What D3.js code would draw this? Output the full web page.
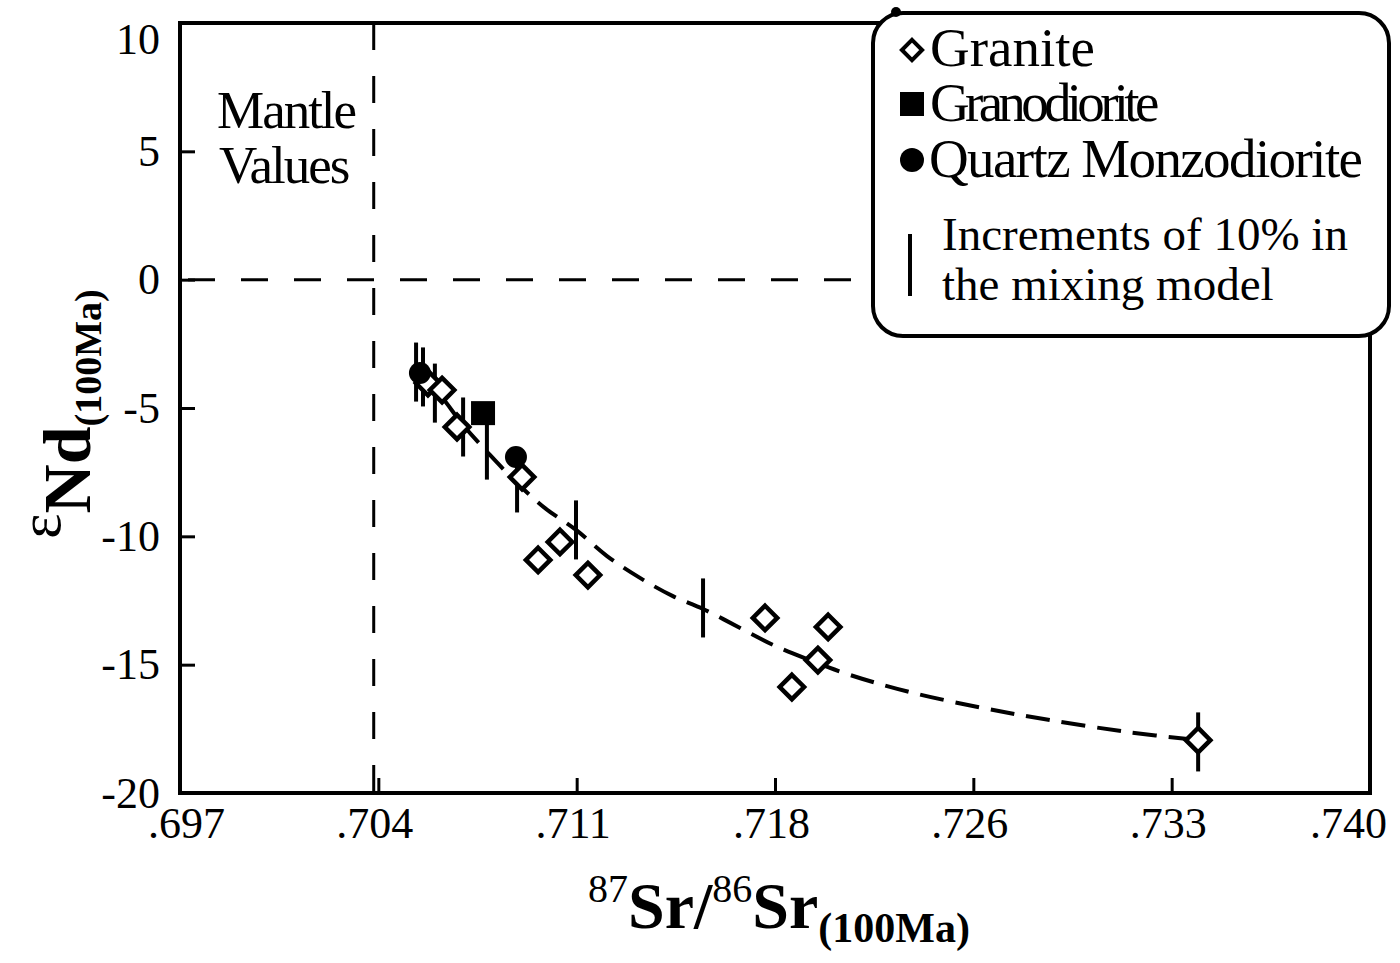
<!DOCTYPE html>
<html>
<head>
<meta charset="utf-8">
<script src="https://cdn.jsdelivr.net/npm/d3@7"></script>
<style>
  html, body { margin: 0; padding: 0; background: #fff; }
  svg { display: block; font-family: "Liberation Serif", "Times New Roman", serif; }
</style>
</head>
<body>
<svg id="chart" width="1400" height="963"></svg>
<script>
// 87Sr/86Sr (100 Ma) vs epsilon-Nd (100 Ma) for the plutonic suite
const granite = [
  [0.70596, -4.03], [0.70647, -4.30], [0.70701, -5.74], [0.70936, -7.69],
  [0.71073, -10.22], [0.70994, -10.92], [0.71174, -11.51], [0.71814, -13.18],
  [0.72042, -13.53], [0.72005, -14.82], [0.71911, -15.87], [0.73379, -17.94]
];
const granodiorite = [[0.70795, -5.20]];
const quartzMonzodiorite = [[0.70567, -3.64], [0.70914, -6.91]];

// Mixing model trajectory and its 10% increment marks
const mixingCurve = [
  [0.70553, -3.52], [0.70640, -4.50], [0.70723, -5.66], [0.70820, -6.83],
  [0.70918, -7.92], [0.71019, -8.90], [0.71131, -9.75], [0.71243, -10.77],
  [0.71362, -11.62], [0.71481, -12.33], [0.71590, -12.83], [0.71724, -13.57],
  [0.71843, -14.23], [0.71966, -14.78], [0.72121, -15.40], [0.72338, -16.07],
  [0.72602, -16.69], [0.72844, -17.16], [0.73122, -17.62], [0.73379, -17.94]
];
const mixingIncrements = [
  [0.70553, -3.60], [0.70578, -3.79], [0.70621, -4.42], [0.70723, -5.74],
  [0.70809, -6.64], [0.70918, -7.92], [0.71131, -9.75], [0.71590, -12.79],
  [0.73379, -18.01]
];

const xTickLabels = [".697", ".704", ".711", ".718", ".726", ".733", ".740"];
const yTickValues = [-20, -15, -10, -5, 0, 5, 10];
const mantleSr = 0.704;
const mantleNd = 0;

const svg = d3.select("#chart");
const plotLeft = 180, plotRight = 1370, plotTop = 23, plotBottom = 793;

const x = d3.scaleLinear().domain([0.697, 0.740]).range([plotLeft, plotRight]);
const y = d3.scaleLinear().domain([-20, 10]).range([plotBottom, plotTop]);
const xTickValues = xTickLabels.map((d, i) => 0.697 + i * (0.740 - 0.697) / (xTickLabels.length - 1));

// Reference lines for mantle values
svg.append("line")
  .attr("x1", x(mantleSr)).attr("x2", x(mantleSr))
  .attr("y1", plotTop).attr("y2", plotBottom)
  .attr("stroke", "#000").attr("stroke-width", 3)
  .attr("stroke-dasharray", "27,26");
svg.append("line")
  .attr("x1", plotLeft).attr("x2", plotRight)
  .attr("y1", y(mantleNd)).attr("y2", y(mantleNd))
  .attr("stroke", "#000").attr("stroke-width", 3)
  .attr("stroke-dasharray", "27,26").attr("stroke-dashoffset", -8);

// Axes
const xAxis = d3.axisBottom(x).tickValues(xTickValues)
  .tickFormat((d, i) => xTickLabels[i]).tickSize(-15).tickPadding(14);
const yAxis = d3.axisLeft(y).tickValues(yTickValues)
  .tickFormat(d => d).tickSize(-15).tickPadding(20);

const gx = svg.append("g").attr("transform", `translate(0,${plotBottom})`).call(xAxis);
const gy = svg.append("g").attr("transform", `translate(${plotLeft},0)`).call(yAxis);
[gx, gy].forEach(g => {
  g.select(".domain").remove();
  g.selectAll(".tick line").attr("stroke", "#000").attr("stroke-width", 3);
  g.selectAll(".tick text").attr("fill", "#000")
    .style("font-family", "'Liberation Serif', serif").style("font-size", "44px");
});
// end labels pulled inside the frame corners
gy.selectAll(".tick").filter(d => d === 10).select("text").attr("dy", "0.7em");
gx.selectAll(".tick text").attr("dx", (d, i) => i === 0 ? 6 : (i === xTickLabels.length - 1 ? -22 : -4));

// Plot frame
svg.append("rect")
  .attr("x", plotLeft).attr("y", plotTop)
  .attr("width", plotRight - plotLeft).attr("height", plotBottom - plotTop)
  .attr("fill", "none").attr("stroke", "#000").attr("stroke-width", 4);

// Mixing curve
svg.append("path")
  .datum(mixingCurve)
  .attr("d", d3.line().x(d => x(d[0])).y(d => y(d[1])).curve(d3.curveCatmullRom))
  .attr("fill", "none").attr("stroke", "#000").attr("stroke-width", 4)
  .attr("stroke-dasharray", "24,12");

// 10% increment bars
const barHalf = 1.15;
svg.append("g").selectAll("line")
  .data(mixingIncrements).join("line")
  .attr("x1", d => x(d[0])).attr("x2", d => x(d[0]))
  .attr("y1", d => y(d[1] + barHalf)).attr("y2", d => y(d[1] - barHalf))
  .attr("stroke", "#000").attr("stroke-width", 4);

// Samples
const diamond = d3.symbol().type(d3.symbolDiamond2).size(380);
svg.append("g").selectAll("path")
  .data(granite).join("path")
  .attr("transform", d => `translate(${x(d[0])},${y(d[1])})`)
  .attr("d", diamond)
  .attr("fill", "#fff").attr("stroke", "#000").attr("stroke-width", 4.5);
svg.append("g").selectAll("rect")
  .data(granodiorite).join("rect")
  .attr("x", d => x(d[0]) - 12).attr("y", d => y(d[1]) - 12)
  .attr("width", 24).attr("height", 24).attr("fill", "#000");
svg.append("g").selectAll("circle")
  .data(quartzMonzodiorite).join("circle")
  .attr("cx", d => x(d[0])).attr("cy", d => y(d[1]))
  .attr("r", 11).attr("fill", "#000");

// Mantle label
const mantle = svg.append("text")
  .attr("font-size", 53).attr("letter-spacing", -2).attr("fill", "#000");
mantle.append("tspan").attr("x", 217).attr("y", 128).text("Mantle");
mantle.append("tspan").attr("x", 219).attr("y", 183).text("Values");

// Legend
const lg = svg.append("g");
lg.append("rect")
  .attr("x", 873).attr("y", 13).attr("width", 516).attr("height", 323)
  .attr("rx", 30).attr("ry", 30)
  .attr("fill", "#fff").attr("stroke", "#000").attr("stroke-width", 4);
lg.append("circle").attr("cx", 896).attr("cy", 12).attr("r", 5).attr("fill", "#000");
lg.append("path")
  .attr("transform", "translate(912,50)")
  .attr("d", d3.symbol().type(d3.symbolDiamond2).size(260))
  .attr("fill", "#fff").attr("stroke", "#000").attr("stroke-width", 4);
lg.append("rect").attr("x", 900).attr("y", 92).attr("width", 24).attr("height", 24).attr("fill", "#000");
lg.append("circle").attr("cx", 912).attr("cy", 160).attr("r", 12).attr("fill", "#000");
lg.append("line").attr("x1", 910).attr("x2", 910).attr("y1", 234).attr("y2", 296)
  .attr("stroke", "#000").attr("stroke-width", 4);
const legendText = [
  { t: "Granite", x: 930, y: 66, size: 55, ls: 0 },
  { t: "Granodiorite", x: 930, y: 121, size: 55, ls: -4.7 },
  { t: "Quartz Monzodiorite", x: 929, y: 177, size: 55, ls: -1.6 },
  { t: "Increments of 10% in", x: 942, y: 250, size: 47, ls: 0 },
  { t: "the mixing model", x: 942, y: 300, size: 47, ls: 0 }
];
lg.selectAll("text.lab").data(legendText).join("text")
  .attr("class", "lab")
  .attr("x", d => d.x).attr("y", d => d.y)
  .attr("font-size", d => d.size).attr("letter-spacing", d => d.ls)
  .attr("fill", "#000").text(d => d.t);

// Axis titles
const xt = svg.append("text")
  .attr("x", 779).attr("y", 928).attr("text-anchor", "middle").attr("fill", "#000");
xt.append("tspan").attr("font-size", 40).attr("dy", -26).text("87");
xt.append("tspan").attr("font-size", 66).attr("font-weight", "bold").attr("dy", 26).text("Sr/");
xt.append("tspan").attr("font-size", 40).attr("dy", -26).text("86");
xt.append("tspan").attr("font-size", 66).attr("font-weight", "bold").attr("dy", 26).text("Sr");
xt.append("tspan").attr("font-size", 42).attr("font-weight", "bold").attr("dy", 14).text("(100Ma)");

const yt = svg.append("text")
  .attr("transform", "translate(90,414) rotate(-90)")
  .attr("text-anchor", "middle").attr("fill", "#000");
yt.append("tspan").attr("font-size", 60).attr("dy", -30).text("ε");
yt.append("tspan").attr("font-size", 68).attr("font-weight", "bold").attr("dy", 30).text("Nd");
yt.append("tspan").attr("font-size", 38).attr("font-weight", "bold").attr("dy", 11).text("(100Ma)");
</script>
</body>
</html>
